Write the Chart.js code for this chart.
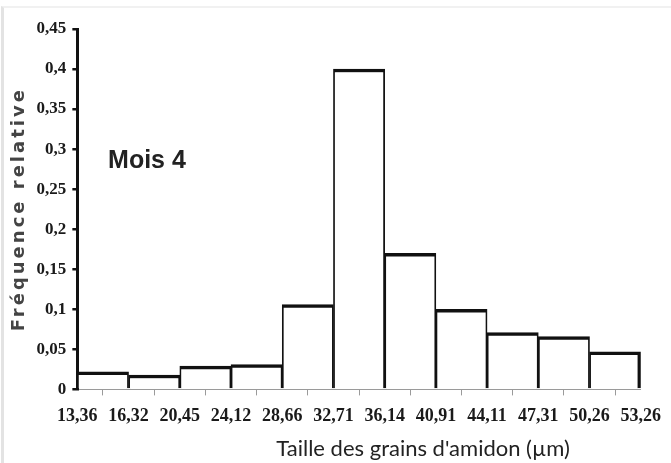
<!DOCTYPE html>
<html>

<head>
    <title>Mois 4</title>
    <script src="https://cdn.jsdelivr.net/npm/chart.js@4"></script>
    <style>
        body { margin: 0; background: #fff; }
        #wrap { width: 671px; height: 463px; position: relative; }
        #frame { position: absolute; top: 6px; left: 1px; right: 0; bottom: 0;
                 border-top: 2px solid #f1f1f1; border-left: 3px solid #e3e3e3; pointer-events: none; }
    </style>
</head>

<body>
    <div id="wrap"><canvas id="chart"></canvas><div id="frame"></div></div>
    <script>
        // bins of starch grain size (boundaries) and relative frequency per bin
        const binNames = ['13,36-16,32', '16,32-20,45', '20,45-24,12', '24,12-28,66', '28,66-32,71', '32,71-36,14',
            '36,14-40,91', '40,91-44,11', '44,11-47,31', '47,31-50,26', '50,26-53,26'];
        const edgeLabels = ['13,36', '16,32', '20,45', '24,12', '28,66', '32,71', '36,14', '40,91', '44,11', '47,31', '50,26', '53,26'];
        const frequencies = [0.022, 0.018, 0.029, 0.031, 0.106, 0.4, 0.17, 0.1, 0.071, 0.066, 0.047];
        const yTickLabels = ['0', '0,05', '0,1', '0,15', '0,2', '0,25', '0,3', '0,35', '0,4', '0,45'];

        const lastBar = frequencies.length - 1;

        // y title is drawn with some letter spacing like the original
        const spacedTitle = {
            id: 'spacedTitle',
            beforeDraw(chart) {
                const s = chart.scales.y;
                if (s && !s._spaced) {
                    const orig = s.drawTitle.bind(s);
                    s.drawTitle = function () {
                        const c = this.ctx;
                        c.save();
                        c.letterSpacing = '3px';
                        orig();
                        c.restore();
                    };
                    s._spaced = true;
                }
            }
        };

        const extraText = {
            id: 'extraText',
            afterDraw(chart) {
                const ctx = chart.ctx;
                const xs = chart.scales.xEdges;
                const ys = chart.scales.y;
                ctx.save();
                ctx.fillStyle = '#222';
                ctx.font = 'bold 25px "Liberation Sans", Arial, sans-serif';
                ctx.textAlign = 'left';
                ctx.textBaseline = 'middle';
                ctx.fillText('Mois 4', xs.getPixelForValue(0.6), ys.getPixelForValue(0.285));

                ctx.fillStyle = '#222';
                ctx.font = '22px Lato, sans-serif';
                ctx.textAlign = 'center';
                ctx.fillText("Taille des grains d'amidon (µm)", xs.getPixelForValue(6.75), chart.chartArea.bottom + 60);
                ctx.restore();
            }
        };

        new Chart(document.getElementById('chart'), {
            type: 'bar',
            data: {
                labels: binNames,
                datasets: [{
                    data: frequencies,
                    xAxisID: 'x',
                    yAxisID: 'y',
                    backgroundColor: '#ffffff',
                    borderColor: '#111111',
                    borderWidth: (c) => ({ top: 3.5, left: 1.75, right: c.dataIndex === lastBar ? 3.5 : 1.75, bottom: 0 }),
                    borderSkipped: 'bottom',
                    categoryPercentage: 1,
                    barPercentage: 1,
                }],
            },
            options: {
                responsive: true,
                maintainAspectRatio: false,
                animation: false,
                layout: {
                    padding: { top: 29, right: 29, bottom: 26, left: 9 },
                },
                plugins: {
                    legend: { display: false },
                    tooltip: { enabled: false },
                },
                scales: {
                    x: {
                        display: false,
                        type: 'category',
                    },
                    xEdges: {
                        type: 'category',
                        position: 'bottom',
                        labels: edgeLabels,
                        offset: false,
                        grid: {
                            display: true,
                            drawOnChartArea: false,
                            drawTicks: true,
                            tickLength: 6,
                            color: '#9a9a9a',
                        },
                        border: { display: true, color: '#9a9a9a', width: 1 },
                        ticks: {
                            autoSkip: false,
                            maxRotation: 0,
                            padding: 10,
                            color: '#1a1a1a',
                            font: { family: '"Liberation Serif", "Times New Roman", serif', size: 18, weight: 'bold' },
                        },
                    },
                    y: {
                        min: 0,
                        max: 0.45,
                        ticks: {
                            stepSize: 0.05,
                            padding: 6,
                            color: '#1a1a1a',
                            font: { family: '"Liberation Serif", "Times New Roman", serif', size: 17, weight: 'bold' },
                            callback: (v) => yTickLabels[Math.round(v / 0.05)],
                        },
                        grid: {
                            drawOnChartArea: false,
                            drawTicks: true,
                            tickLength: 5,
                            color: '#111',
                            lineWidth: 2.5,
                        },
                        border: { display: true, color: '#111', width: 3 },
                        title: {
                            display: true,
                            text: 'Fréquence relative',
                            color: '#444',
                            padding: { top: 0, bottom: 0 },
                            font: { family: '"DejaVu Sans", sans-serif', size: 18, weight: 'bold' },
                        },
                    },
                },
            },
            plugins: [spacedTitle, extraText],
        });
    </script>
</body>

</html>
